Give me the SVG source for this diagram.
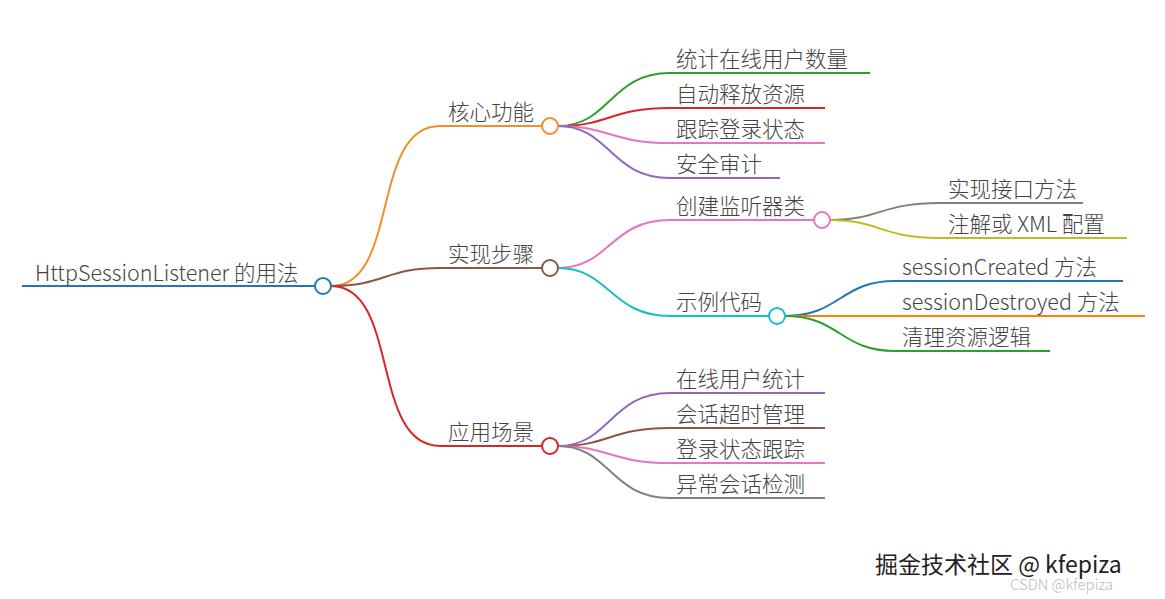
<svg xmlns="http://www.w3.org/2000/svg" width="1165" height="599" viewBox="0 0 1165 599">
<style>
text{font-family:"Noto Sans CJK SC","Noto Sans",sans-serif;font-size:21.5px;fill:#444;font-weight:300}
path,line{fill:none;stroke-width:2}
circle{fill:#fff;stroke-width:2}
</style>
<rect width="1165" height="599" fill="#fff"/>
<g id="connectors">
<path d="M331,286 C400,286 370,126 440,126" stroke="#f28e2b"/>
<path d="M331,286 C385,286 385,268 440,268" stroke="#8c564b"/>
<path d="M331,286 C400,286 370,446 440,446" stroke="#d62728"/>
<path d="M558,126 C610,126 610,73 670,73" stroke="#2ca02c"/>
<path d="M558,126 C610,126 610,108 670,108" stroke="#d62728"/>
<path d="M558,126 C610,126 610,143 670,143" stroke="#e377c2"/>
<path d="M558,126 C610,126 610,178 670,178" stroke="#9467bd"/>
<path d="M558,268 C610,268 610,220 670,220" stroke="#e377c2"/>
<path d="M558,268 C610,268 610,316 670,316" stroke="#17becf"/>
<path d="M830,220 C880,220 880,203 940,203" stroke="#7f7f7f"/>
<path d="M830,220 C880,220 880,238 940,238" stroke="#bcbd22"/>
<path d="M785,316 C840,316 840,281 895,281" stroke="#1f77b4"/>
<path d="M785,316 C840,316 840,316 895,316" stroke="#ff7f0e"/>
<path d="M785,316 C840,316 840,351 895,351" stroke="#2ca02c"/>
<path d="M558,446 C610,446 610,393 670,393" stroke="#9467bd"/>
<path d="M558,446 C610,446 610,428 670,428" stroke="#8c564b"/>
<path d="M558,446 C610,446 610,463 670,463" stroke="#e377c2"/>
<path d="M558,446 C610,446 610,498 670,498" stroke="#7f7f7f"/>
</g>
<g id="root"><line x1="22" y1="286" x2="315" y2="286" stroke="#1f77b4" stroke-width="3"/><circle cx="323" cy="286" r="8" stroke="#1f77b4"/><text x="35" y="281">HttpSessionListener 的用法</text></g>
<g id="n1"><line x1="440" y1="126" x2="542" y2="126" stroke="#f28e2b"/><circle cx="550" cy="126" r="8" stroke="#f28e2b"/><text x="448" y="120">核心功能</text></g>
<g id="n2"><line x1="440" y1="268" x2="542" y2="268" stroke="#8c564b"/><circle cx="550" cy="268" r="8" stroke="#8c564b"/><text x="448" y="262">实现步骤</text></g>
<g id="n3"><line x1="440" y1="446" x2="542" y2="446" stroke="#d62728"/><circle cx="550" cy="446" r="8" stroke="#d62728"/><text x="448" y="440">应用场景</text></g>
<g id="n11"><line x1="670" y1="73" x2="870" y2="73" stroke="#2ca02c"/><text x="676" y="67">统计在线用户数量</text></g>
<g id="n12"><line x1="670" y1="108" x2="825" y2="108" stroke="#d62728"/><text x="676" y="102">自动释放资源</text></g>
<g id="n13"><line x1="670" y1="143" x2="825" y2="143" stroke="#e377c2"/><text x="676" y="137">跟踪登录状态</text></g>
<g id="n14"><line x1="670" y1="178" x2="780" y2="178" stroke="#9467bd"/><text x="676" y="172">安全审计</text></g>
<g id="n21"><line x1="670" y1="220" x2="814" y2="220" stroke="#e377c2"/><circle cx="822" cy="220" r="8" stroke="#e377c2"/><text x="676" y="214">创建监听器类</text></g>
<g id="n22"><line x1="670" y1="316" x2="769" y2="316" stroke="#17becf"/><circle cx="777" cy="316" r="8" stroke="#17becf"/><text x="676" y="310">示例代码</text></g>
<g id="n211"><line x1="940" y1="203" x2="1083" y2="203" stroke="#7f7f7f"/><text x="948" y="197">实现接口方法</text></g>
<g id="n212"><line x1="940" y1="238" x2="1127" y2="238" stroke="#bcbd22"/><text x="948" y="232">注解或 XML 配置</text></g>
<g id="n221"><line x1="895" y1="281" x2="1123" y2="281" stroke="#1f77b4"/><text x="902" y="275">sessionCreated 方法</text></g>
<g id="n222"><line x1="895" y1="316" x2="1145" y2="316" stroke="#ff7f0e"/><text x="902" y="310">sessionDestroyed 方法</text></g>
<g id="n223"><line x1="895" y1="351" x2="1050" y2="351" stroke="#2ca02c"/><text x="902" y="345">清理资源逻辑</text></g>
<g id="n31"><line x1="670" y1="393" x2="825" y2="393" stroke="#9467bd"/><text x="676" y="387">在线用户统计</text></g>
<g id="n32"><line x1="670" y1="428" x2="825" y2="428" stroke="#8c564b"/><text x="676" y="422">会话超时管理</text></g>
<g id="n33"><line x1="670" y1="463" x2="825" y2="463" stroke="#e377c2"/><text x="676" y="457">登录状态跟踪</text></g>
<g id="n34"><line x1="670" y1="498" x2="825" y2="498" stroke="#7f7f7f"/><text x="676" y="492">异常会话检测</text></g>
<text x="875" y="573" style="font-size:23px;fill:#222;font-weight:400">掘金技术社区 @ kfepiza</text>
<text x="1010" y="590" style="font-size:15px;fill:#bbb">CSDN @kfepiza</text>
</svg>
